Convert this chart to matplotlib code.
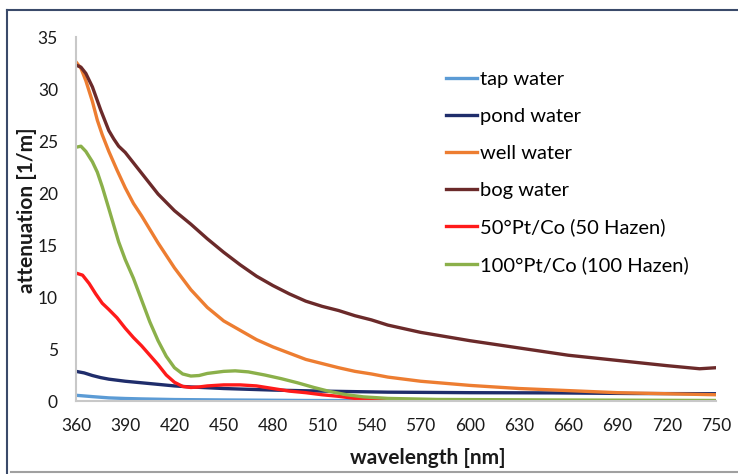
import matplotlib
matplotlib.use('Agg')
import matplotlib.pyplot as plt
from matplotlib.lines import Line2D

plt.rcParams['font.family'] = ['Lato', 'DejaVu Sans']

# wavelength [nm] / attenuation [1/m]
tap_wl = [360, 370, 380, 390, 400, 420, 450, 500, 550, 600, 650, 700, 750]
tap_att = [0.55, 0.42, 0.3, 0.24, 0.2, 0.14, 0.1, 0.05, 0.03, 0.02, 0.02, 0.01, 0.01]

pond_wl = [360, 365, 370, 375, 380, 390, 400, 410, 420, 430, 450, 480, 510, 550, 600, 650, 700, 750]
pond_att = [2.85, 2.7, 2.45, 2.25, 2.1, 1.9, 1.75, 1.6, 1.45, 1.35, 1.2, 1.05, 0.95, 0.85, 0.8, 0.78, 0.72, 0.7]

well_wl = [360, 363, 366, 370, 373, 376, 380, 385, 390, 395, 400, 405, 410, 420, 430, 440, 450,
           460, 470, 480, 490, 500, 510, 520, 530, 540, 550, 570, 600, 630, 660, 690, 720, 750]
well_att = [32.6, 32.0, 30.8, 28.8, 27.0, 25.6, 24.0, 22.2, 20.5, 19.0, 17.8, 16.5, 15.2, 12.8, 10.7, 9.0, 7.7,
            6.8, 5.9, 5.2, 4.6, 4.0, 3.6, 3.2, 2.85, 2.6, 2.3, 1.9, 1.5, 1.2, 1.0, 0.8, 0.7, 0.6]

bog_wl = [360, 363, 366, 370, 375, 380, 383, 386, 390, 395, 400, 410, 420, 430, 440, 450, 460, 470,
          480, 490, 500, 510, 520, 530, 540, 550, 570, 600, 630, 660, 690, 720, 740, 750]
bog_att = [32.3, 32.1, 31.5, 30.2, 28.0, 26.0, 25.2, 24.5, 23.9, 22.9, 21.9, 19.9, 18.3, 17.0, 15.6, 14.3, 13.1, 12.0,
           11.1, 10.3, 9.6, 9.1, 8.7, 8.2, 7.8, 7.3, 6.6, 5.8, 5.1, 4.4, 3.9, 3.4, 3.1, 3.2]

hz50_wl = [360, 364, 368, 372, 376, 380, 385, 390, 395, 400, 405, 410, 415, 420, 425, 430, 435, 440,
           450, 460, 470, 480, 490, 500, 510, 520, 530, 540, 560, 650, 750]
hz50_att = [12.3, 12.1, 11.3, 10.3, 9.4, 8.8, 8.0, 7.0, 6.1, 5.3, 4.4, 3.5, 2.5, 1.8, 1.4, 1.3, 1.35, 1.45,
            1.55, 1.55, 1.45, 1.2, 0.95, 0.8, 0.6, 0.45, 0.25, 0.1, 0.05, 0.03, 0.02]

hz100_wl = [360, 363, 366, 370, 373, 376, 380, 383, 386, 390, 395, 400, 405, 410, 415, 420, 425, 430,
            435, 440, 450, 457, 465, 475, 485, 495, 505, 515, 525, 535, 550, 580, 650, 750]
hz100_att = [24.4, 24.5, 24.0, 23.0, 22.0, 20.6, 18.5, 16.9, 15.3, 13.6, 11.8, 9.7, 7.6, 5.8, 4.3, 3.2, 2.6, 2.4,
             2.45, 2.65, 2.85, 2.9, 2.8, 2.5, 2.15, 1.75, 1.3, 0.9, 0.6, 0.4, 0.25, 0.15, 0.1, 0.05]

series = [
    ("tap water", tap_wl, tap_att, "#5b9bd5"),
    ("pond water", pond_wl, pond_att, "#1f2d6b"),
    ("well water", well_wl, well_att, "#ed7d31"),
    ("bog water", bog_wl, bog_att, "#6b2a2a"),
    ("50°Pt/Co (50 Hazen)", hz50_wl, hz50_att, "#ff1a1a"),
    ("100°Pt/Co (100 Hazen)", hz100_wl, hz100_att, "#8bb04a"),
]

x_ticks = list(range(360, 751, 30))
y_ticks = list(range(0, 36, 5))

fig = plt.figure(figsize=(7.38, 4.74), dpi=100)
ax = fig.add_axes([76 / 738, 1 - 401 / 474, 640 / 738, 364 / 474])

for label, wl, att, color in series:
    ax.plot(wl, att, color=color, linewidth=2.4, label=label, solid_joinstyle='round')

ax.set_xlim(360, 750)
ax.set_ylim(0, 35)
ax.set_xticks(x_ticks)
ax.set_yticks(y_ticks)
ax.tick_params(axis='both', length=0, labelsize=12.5, colors='#1a1a1a')
ax.tick_params(axis='y', pad=13)
ax.tick_params(axis='x', pad=12)
for side in ('top', 'right'):
    ax.spines[side].set_visible(False)
for side in ('left', 'bottom'):
    ax.spines[side].set_color('#c8c8c8')
    ax.spines[side].set_linewidth(1.5)

fig.text(27 / 738, 1 - 210 / 474, "attenuation [1/m]", rotation=90, ha='center', va='center',
         fontsize=15, fontweight='bold', color='#1a1a1a')
fig.text(428 / 738, 1 - 458 / 474, "wavelength [nm]", ha='center', va='center',
         fontsize=15, fontweight='bold', color='#1a1a1a')

handles = [Line2D([], [], color=c, linewidth=2.4) for _, _, _, c in series]
fig.legend(handles, [s[0] for s in series], loc='upper left',
           bbox_to_anchor=(436 / 738, 1 - 61 / 474), frameon=False, fontsize=14.5,
           handlelength=1.55, handletextpad=0.12, labelspacing=0.98, borderpad=0)

# outer chart frame
fig.add_artist(Line2D([7 / 738, 1], [1 - 10 / 474, 1 - 10 / 474], color='#3a4a6a', linewidth=1.5))
fig.add_artist(Line2D([7 / 738, 7 / 738], [0, 1 - 10 / 474], color='#3a4a6a', linewidth=1.5))
fig.add_artist(Line2D([11 / 738, 1], [1 - 472 / 474, 1 - 472 / 474], color='#a0a0a0', linewidth=1.5))

fig.savefig("out.png", dpi=100)
